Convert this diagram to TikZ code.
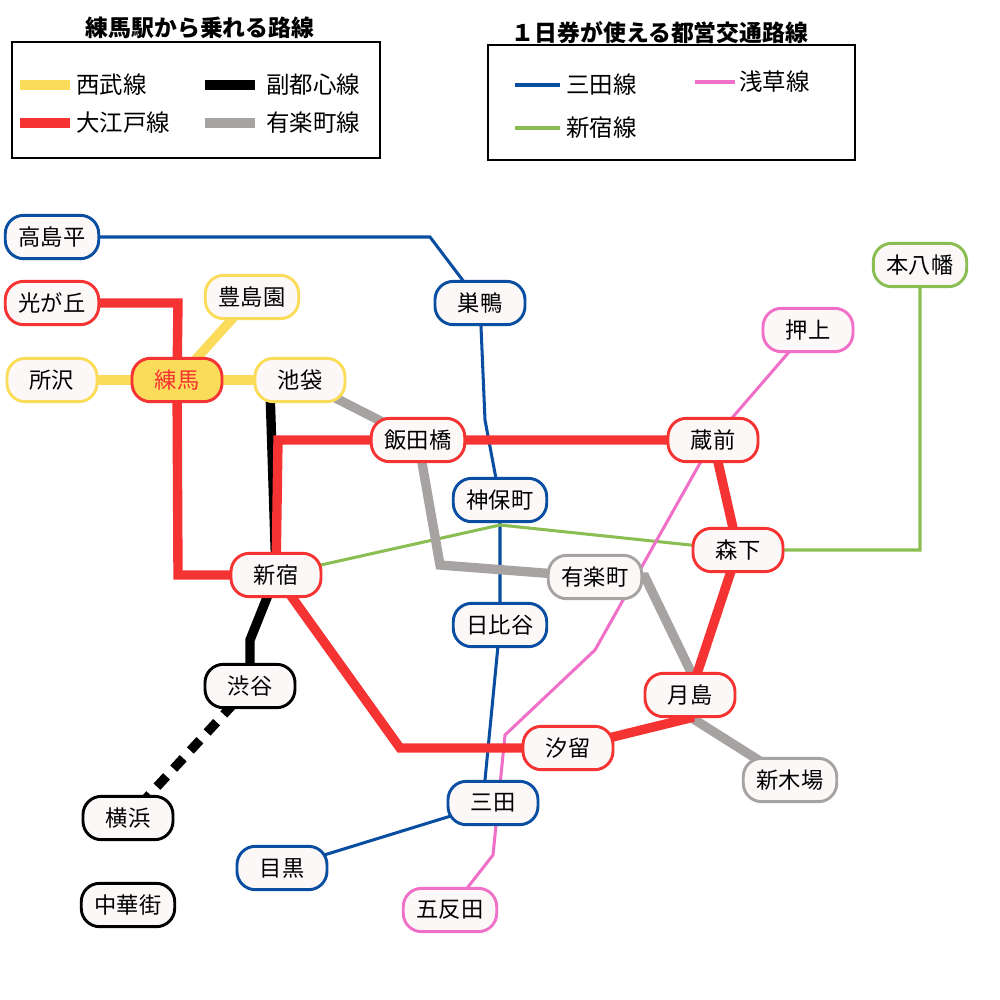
\documentclass[tikz,border=0pt]{standalone}
\usepackage{fontspec}
\setmainfont{Noto Sans CJK JP}
\usetikzlibrary{positioning,backgrounds}
\definecolor{mitablue}{HTML}{0A4EA2}
\definecolor{oedored}{HTML}{F53333}
\definecolor{seibuyellow}{HTML}{FADB5A}
\definecolor{yurakugray}{HTML}{A8A3A3}
\definecolor{shinjukugreen}{HTML}{8BBE52}
\definecolor{asakusapink}{HTML}{F070C8}
\definecolor{stfill}{HTML}{FCF8F8}
\begin{document}
\begin{tikzpicture}[x=0.3mm,y=-0.3mm]

    \tikzstyle{sta}=[rounded corners=5.5mm, fill=stfill, line width=2.5pt, minimum height=13mm, minimum width=27mm, inner xsep=4mm, font=\fontsize{19}{19}\selectfont];
    \tikzstyle{thin}=[line width=2.6pt];
    \tikzstyle{thick}=[line width=8pt];
    \tikzstyle{lbl}=[anchor=west, font=\fontsize{20}{20}\selectfont];
    \tikzstyle{ttl}=[font=\bfseries\fontsize{19.5}{20}\selectfont];

    \useasboundingbox (0,0) rectangle (1000,1000);

    % legends
    \node (legendA) [ttl] at (200,28) {練馬駅から乗れる路線};
    \draw [line width=1pt] (12,42) rectangle (380,158);
    \draw [thick, seibuyellow] (20,85) -- (70,85);
    \node [lbl] at (72,85) {西武線};
    \draw [thick, oedored] (20,123) -- (70,123);
    \node [lbl] at (72,123) {大江戸線};
    \draw [thick, black] (205,85) -- (255,85);
    \node [lbl] at (262,85) {副都心線};
    \draw [thick, yurakugray] (205,123) -- (255,123);
    \node [lbl] at (262,123) {有楽町線};

    \node (legendB) [ttl] at (660,33) {１日券が使える都営交通路線};
    \draw [line width=1pt] (488,45) rectangle (855,160);
    \draw [thin, mitablue] (515,85) -- (560,85);
    \node [lbl] at (562,85) {三田線};
    \draw [thin, asakusapink] (695,82) -- (735,82);
    \node [lbl] at (735,82) {浅草線};
    \draw [thin, shinjukugreen] (515,128) -- (560,128);
    \node [lbl] at (562,128) {新宿線};

    % stations
    \node (takashimadaira) [sta, draw=mitablue] at (52,237) {高島平};
    \node (sugamo) [sta, draw=mitablue] at (480,303) {巣鴨};
    \node (hikarigaoka) [sta, draw=oedored] at (52,303) {光が丘};
    \node (toshimaen) [sta, draw=seibuyellow] at (252,297) {豊島園};
    \node (tokorozawa) [sta, draw=seibuyellow] at (52,380) {所沢};
    \node (nerima) [sta, draw=oedored, fill=seibuyellow, text=oedored] at (177,380) {練馬};
    \node (ikebukuro) [sta, draw=seibuyellow] at (300,380) {池袋};
    \node (iidabashi) [sta, draw=oedored] at (418,440) {飯田橋};
    \node (kuramae) [sta, draw=oedored] at (713,440) {蔵前};
    \node (oshiage) [sta, draw=asakusapink] at (808,330) {押上};
    \node (motoyawata) [sta, draw=shinjukugreen] at (920,265) {本八幡};
    \node (jimbocho) [sta, draw=mitablue] at (500,500) {神保町};
    \node (morishita) [sta, draw=oedored] at (738,550) {森下};
    \node (shinjuku) [sta, draw=oedored] at (276,575) {新宿};
    \node (yurakucho) [sta, draw=yurakugray] at (595,577) {有楽町};
    \node (hibiya) [sta, draw=mitablue] at (500,625) {日比谷};
    \node (shibuya) [sta, draw=black] at (250,686) {渋谷};
    \node (tsukishima) [sta, draw=oedored] at (690,695) {月島};
    \node (shiodome) [sta, draw=oedored] at (568,748) {汐留};
    \node (shinkiba) [sta, draw=yurakugray] at (790,780) {新木場};
    \node (mita) [sta, draw=mitablue] at (493,803) {三田};
    \node (yokohama) [sta, draw=black] at (128,818) {横浜};
    \node (meguro) [sta, draw=mitablue] at (282,868) {目黒};
    \node (chukagai) [sta, draw=black] at (128,905) {中華街};
    \node (gotanda) [sta, draw=asakusapink] at (450,910) {五反田};

    \begin{scope}[on background layer]
      % Mita line
      \draw [thin, mitablue] (takashimadaira.center) -- (430,237) -- (sugamo.center) -- (485,420) -- (jimbocho.center) -- (hibiya.center) -- (485,780) -- (mita.center) -- (meguro.center);
      % Shinjuku line
      \draw [thin, shinjukugreen] (shinjuku.center) -- (500,525) -- (morishita.center) -- (920,550) -- (motoyawata.center);
      % Asakusa line
      \draw [thin, asakusapink] (oshiage.center) -- (kuramae.center) -- (595,650) -- (505,735) -- (493,855) -- (gotanda.center);
      % Seibu
      \draw [thick, seibuyellow] (tokorozawa.center) -- (ikebukuro.center);
      \draw [thick, seibuyellow] (nerima.center) -- (toshimaen.center);
      % Yurakucho
      \draw [thick, yurakugray] (ikebukuro.center) -- (iidabashi.center) -- (440,565) -- (yurakucho.center) -- (645,577) -- (690,670) -- (tsukishima.center) -- (695,720) -- (shinkiba.center);
      % Fukutoshin
      \draw [thick, black] (270,390) -- (shinjuku.center) -- (250,640) -- (shibuya.center);
      \draw [thick, black, dash pattern=on 12pt off 9pt] (shibuya.center) -- (yokohama.center);
      % Oedo
      \draw [thick, oedored] (hikarigaoka.center) -- (178,303) -- (nerima.center) -- (178,575) -- (shinjuku.center);
      \draw [thick, oedored] (shinjuku.center) -- (278,440) -- (iidabashi.center) -- (kuramae.center) -- (morishita.center) -- (tsukishima.center) -- (690,718) -- (shiodome.center) -- (400,748) -- (shinjuku.center);
    \end{scope}
   \end{tikzpicture}
\end{document}
